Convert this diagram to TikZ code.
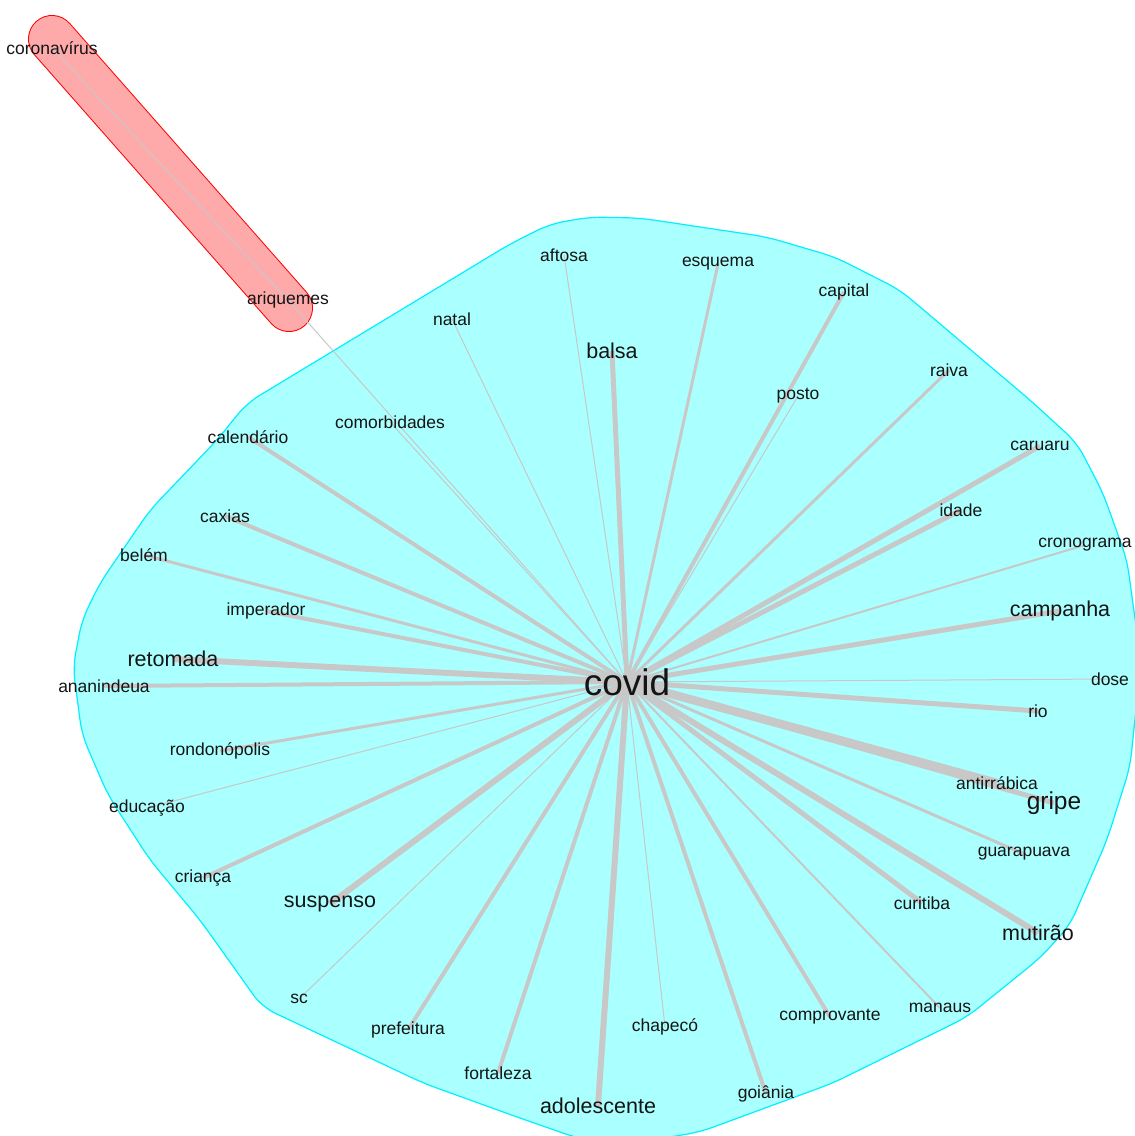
\documentclass[tikz,border=0pt]{standalone}
\usepackage{fontspec}
\setmainfont{Liberation Sans}
\definecolor{hullcyan}{RGB}{170,255,255}
\definecolor{hullline}{RGB}{0,240,255}
\definecolor{hullpink}{RGB}{255,170,170}
\definecolor{edgegray}{RGB}{200,200,200}
\pgfdeclarelayer{hull}
\pgfdeclarelayer{edges}
\pgfsetlayers{hull,edges,main}

\begin{document}
\begin{tikzpicture}[x=1pt,y=-1pt,
word/.style={inner sep=0pt,text=black!92,font=\fontsize{17.5}{18}\selectfont},
bigword/.style={word,font=\fontsize{21.5}{22}\selectfont},
e1/.style={draw=edgegray,line width=1pt},
e2/.style={draw=edgegray,line width=2pt},
e3/.style={draw=edgegray,line width=3pt},
e4/.style={draw=edgegray,line width=4pt},
e5/.style={draw=edgegray,line width=5pt},
e6/.style={draw=edgegray,line width=6pt},
e8/.style={draw=edgegray,line width=8.5pt}]
\useasboundingbox (0,0) rectangle (1135,1136);

% words
\node[word,font=\fontsize{37}{38}\selectfont] (covid) at (627,682) {covid};
\node[word] (coronavirus) at (52,48) {coronavírus};
\node[word] (ariquemes) at (288,300) {ariquemes};
\node[word] (aftosa) at (564,255) {aftosa};
\node[word] (esquema) at (718,264) {esquema};
\node[word] (capital) at (844,292) {capital};
\node[word] (natal) at (452,319) {natal};
\node[bigword] (balsa) at (612,351) {balsa};
\node[word] (posto) at (798,396) {posto};
\node[word] (raiva) at (949,370) {raiva};
\node[word] (comorbidades) at (390,422) {comorbidades};
\node[word] (calendario) at (248,437) {calendário};
\node[word] (caruaru) at (1040,446) {caruaru};
\node[word] (idade) at (961,510) {idade};
\node[word] (caxias) at (225,516) {caxias};
\node[word] (belem) at (144,555) {belém};
\node[word] (cronograma) at (1085,545) {cronograma};
\node[word] (imperador) at (266,611) {imperador};
\node[bigword] (campanha) at (1060,611) {campanha};
\node[bigword] (retomada) at (173,659) {retomada};
\node[word] (ananindeua) at (104,686) {ananindeua};
\node[word] (dose) at (1110,679) {dose};
\node[word] (rio) at (1038,711) {rio};
\node[word] (rondonopolis) at (220,751) {rondonópolis};
\node[word] (antirrabica) at (997,783) {antirrábica};
\node[word,font=\fontsize{24.5}{25}\selectfont] (gripe) at (1054,803) {gripe};
\node[word] (educacao) at (147,808) {educação};
\node[word] (guarapuava) at (1024,854) {guarapuava};
\node[word] (crianca) at (203,878) {criança};
\node[bigword] (suspenso) at (330,904) {suspenso};
\node[word] (curitiba) at (922,903) {curitiba};
\node[bigword] (mutirao) at (1038,933) {mutirão};
\node[word] (sc) at (299,999) {sc};
\node[word] (manaus) at (940,1008) {manaus};
\node[word] (comprovante) at (830,1017) {comprovante};
\node[word] (prefeitura) at (408,1030) {prefeitura};
\node[word] (chapeco) at (665,1027) {chapecó};
\node[word] (fortaleza) at (498,1073) {fortaleza};
\node[word] (goiania) at (766,1094) {goiânia};
\node[bigword] (adolescente) at (598,1106) {adolescente};

% groups
\begin{pgfonlayer}{hull}
\draw[hullline,line width=1.2pt,fill=hullcyan,rounded corners=14pt]
 (590,217) -- (640,218) -- (767,237) -- (835,257) -- (900,290) -- (1030,400)
 -- (1077,443) -- (1103,493) -- (1127,560) -- (1137,633) -- (1137,700)
 -- (1130,767) -- (1107,840) -- (1070,925) -- (1040,958) -- (967,1017)
 -- (833,1083) -- (700,1132) -- (640,1142) -- (580,1139) -- (517,1117)
 -- (423,1083) -- (262,1007) -- (200,920) -- (150,860) -- (108,795)
 -- (82,735) -- (73,667) -- (82,620) -- (100,583) -- (150,510)
 -- (217,440) -- (247,403) -- (510,244) -- (550,224) -- cycle;
\draw[red,line width=48pt,line cap=round] (52,39) -- (289,308);
\draw[hullpink,line width=46pt,line cap=round] (52,39) -- (289,308);
\end{pgfonlayer}

% links
\begin{pgfonlayer}{edges}
\path (coronavirus.center) edge[e1] (ariquemes.center)
 (covid.center) edge[e1] (ariquemes.center)
 (covid.center) edge[e1] (comorbidades.center)
 (covid.center) edge[e1] (aftosa.center)
 (covid.center) edge[e3] (esquema.center)
 (covid.center) edge[e4] (capital.center)
 (covid.center) edge[e1] (natal.center)
 (covid.center) edge[e5] (balsa.center)
 (covid.center) edge[e1] (posto.center)
 (covid.center) edge[e3] (raiva.center)
 (covid.center) edge[e4] (calendario.center)
 (covid.center) edge[e5] (caruaru.center)
 (covid.center) edge[e5] (idade.center)
 (covid.center) edge[e4] (caxias.center)
 (covid.center) edge[e3] (belem.center)
 (covid.center) edge[e2] (cronograma.center)
 (covid.center) edge[e4] (imperador.center)
 (covid.center) edge[e5] (campanha.center)
 (covid.center) edge[e6] (retomada.center)
 (covid.center) edge[e4] (ananindeua.center)
 (covid.center) edge[e1] (dose.center)
 (covid.center) edge[e5] (rio.center)
 (covid.center) edge[e3] (rondonopolis.center)
 (covid.center) edge[e8] (antirrabica.center)
 (covid.center) edge[e5] (gripe.center)
 (covid.center) edge[e1] (educacao.center)
 (covid.center) edge[e3] (guarapuava.center)
 (covid.center) edge[e4] (crianca.center)
 (covid.center) edge[e6] (suspenso.center)
 (covid.center) edge[e5] (curitiba.center)
 (covid.center) edge[e6] (mutirao.center)
 (covid.center) edge[e1] (sc.center)
 (covid.center) edge[e2] (manaus.center)
 (covid.center) edge[e4] (comprovante.center)
 (covid.center) edge[e4] (prefeitura.center)
 (covid.center) edge[e1] (chapeco.center)
 (covid.center) edge[e4] (fortaleza.center)
 (covid.center) edge[e4] (goiania.center)
 (covid.center) edge[e6] (adolescente.center);
\end{pgfonlayer}
\end{tikzpicture}
\end{document}
